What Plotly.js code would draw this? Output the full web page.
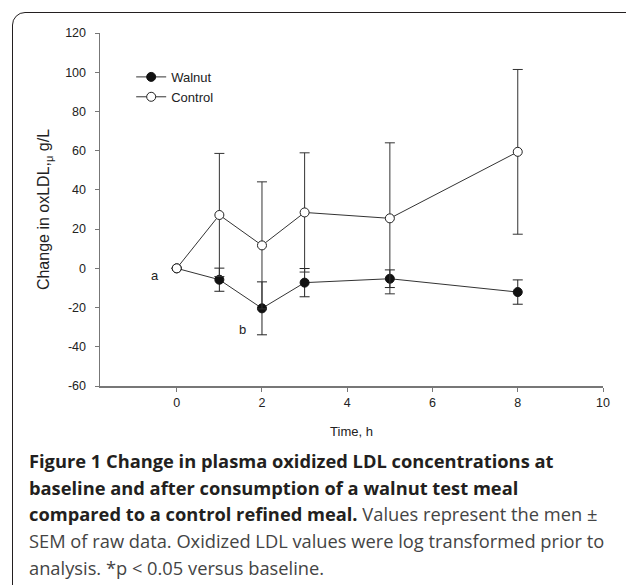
<!DOCTYPE html>
<html>
<head>
<meta charset="utf-8">
<script src="https://cdn.plot.ly/plotly-3.0.1.min.js"></script>
<style>
  html, body { margin: 0; padding: 0; width: 626px; height: 585px; overflow: hidden; background: #fff; }
  #chart { position: absolute; left: 0; top: 0; width: 626px; height: 585px; }
  #frame { position: absolute; left: 12px; top: 12px; width: 700px; height: 700px;
           border: 1.5px solid #231f20; border-radius: 13px; pointer-events: none; box-sizing: border-box; }
  #caption { position: absolute; left: 29px; top: 448px; white-space: nowrap;
             font-family: "Open Sans", Lato, sans-serif; font-size: 18.3px; line-height: 26.7px; color: #444; }
  #caption b { color: #231f20; font-weight: 700; }
</style>
</head>
<body>
<div id="chart"></div>
<div id="frame"></div>
<div id="caption"><b>Figure 1 Change in plasma oxidized LDL concentrations at<br>baseline and after consumption of a walnut test meal<br>compared to a control refined meal.</b> Values represent the men ±<br>SEM of raw data. Oxidized LDL values were log transformed prior to<br>analysis. *p &lt; 0.05 versus baseline.</div>
<script>
// Data
const timeH = [0, 1, 2, 3, 5, 8];
const seriesNames = ["Walnut", "Control"];
const walnutMean = [0, -5.8, -20.4, -7.3, -5.3, -12.1];
const walnutSem = [null, 5.9, 13.5, 7.2, 4.5, 6.2];
const controlMean = [0, 27.2, 11.7, 28.5, 25.5, 59.4];
const controlSem = [null, 31.4, 32.4, 30.4, 38.5, 42.0];
const xTickVals = [0, 2, 4, 6, 8, 10];
const yTickVals = [-60, -40, -20, 0, 20, 40, 60, 80, 100, 120];
const yTickText = ["-60", "-40", "-20", "0", "20", "40", "60", "80", "100", "120"];
const noteLabels = ["a", "b"];
const noteX = [-0.52, 1.55];
const noteY = [-3.6, -31.2];

const font = "Liberation Sans, Arial, sans-serif";
const ink = "#222";
const axisColor = "#777";

const traces = [
  {
    x: timeH, y: walnutMean, name: seriesNames[0], type: "scatter", mode: "lines+markers",
    line: { color: "#333", width: 1 },
    marker: { symbol: "circle", size: 9, color: "#111", line: { color: "#111", width: 1 } },
    error_y: { type: "data", array: walnutSem, visible: true, color: "#222", thickness: 1, width: 5 }
  },
  {
    x: timeH, y: controlMean, name: seriesNames[1], type: "scatter", mode: "lines+markers",
    line: { color: "#333", width: 1 },
    marker: { symbol: "circle", size: 9, color: "#fff", line: { color: "#222", width: 1 } },
    error_y: { type: "data", array: controlSem, visible: true, color: "#333", thickness: 1, width: 5 }
  }
];

const annotations = noteLabels.map((t, i) => ({
  x: noteX[i], y: noteY[i], xref: "x", yref: "y", text: t, showarrow: false,
  font: { family: font, size: 13, color: ink }
}));

const layout = {
  width: 626, height: 585,
  margin: { l: 100, r: 23, t: 33, b: 199 },
  paper_bgcolor: "rgba(0,0,0,0)", plot_bgcolor: "rgba(0,0,0,0)",
  showlegend: true,
  legend: { x: 0.062, y: 0.918, xanchor: "left", yanchor: "top", bgcolor: "rgba(0,0,0,0)",
            font: { family: font, size: 13, color: ink } },
  xaxis: {
    range: [-1.8, 10], tickmode: "array", tickvals: xTickVals,
    showline: true, linecolor: axisColor, linewidth: 1.5, mirror: false,
    ticks: "outside", ticklen: 4, tickcolor: axisColor, tickwidth: 1,
    showgrid: false, zeroline: false, automargin: false,
    tickfont: { family: font, size: 12.5, color: ink },
    title: { text: "Time, h", font: { family: font, size: 13, color: ink }, standoff: 18 }
  },
  yaxis: {
    range: [-60, 120], tickmode: "array", tickvals: yTickVals, ticktext: yTickText,
    showline: true, linecolor: axisColor, linewidth: 1.5, mirror: false,
    ticks: "outside", ticklen: 4, tickcolor: axisColor, tickwidth: 1,
    showgrid: false, zeroline: false, automargin: false, ticklabelstandoff: 6,
    tickfont: { family: font, size: 12.5, color: ink },
    title: { text: "Change in oxLDL,<sub>μ</sub> g/L", font: { family: font, size: 16, color: ink }, standoff: 11 }
  },
  annotations: annotations
};

Plotly.newPlot("chart", traces, layout, { displayModeBar: false, staticPlot: true });
</script>
</body>
</html>
